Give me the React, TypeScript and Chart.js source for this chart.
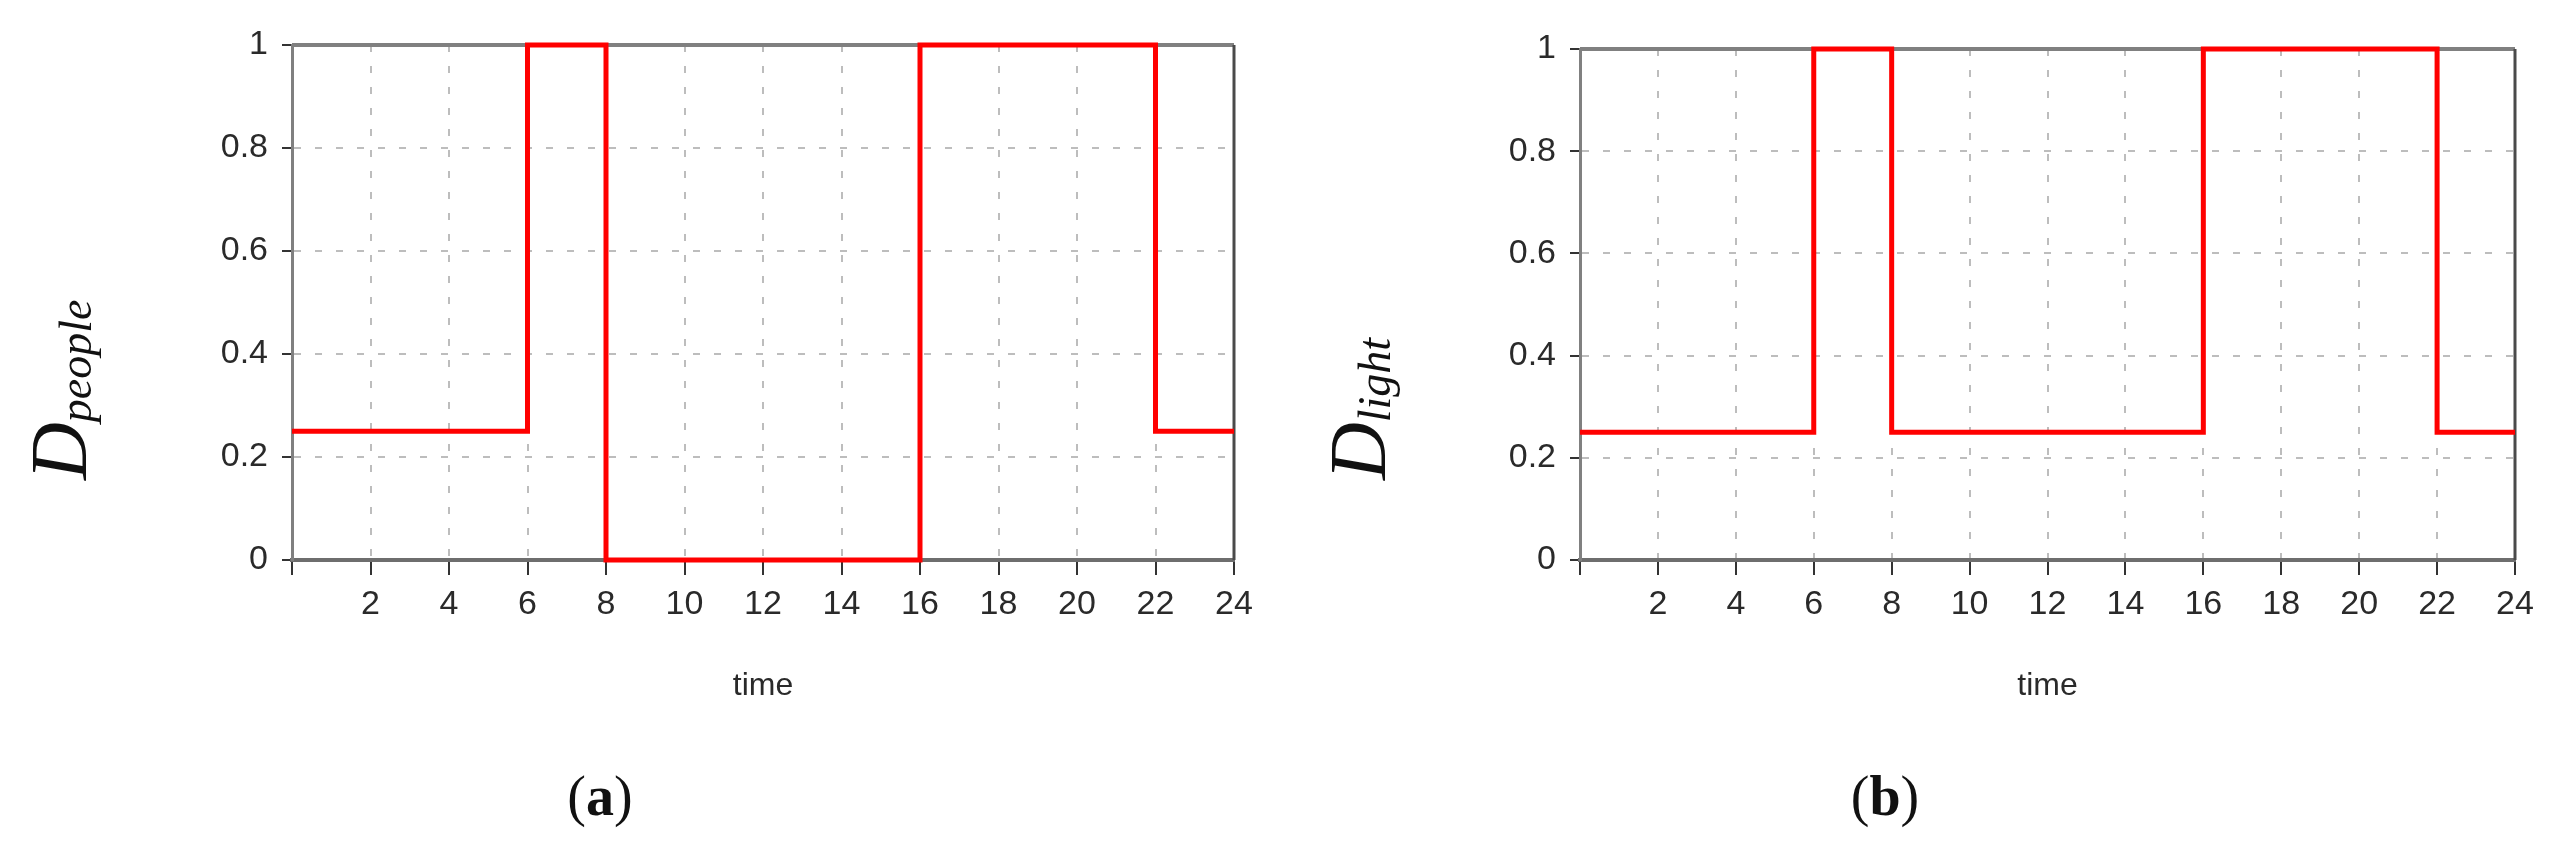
import React, { useEffect, useRef } from "react";
import { Chart, registerables } from "chart.js";

Chart.register(...registerables);

// ---- data ----
const timePoints = [0, 6, 8, 16, 22, 24];
const peopleValues = [0.25, 1, 0, 1, 0.25, 0.25];
const lightValues = [0.25, 1, 0.25, 1, 0.25, 0.25];
const xTickLabels = ["", "2", "4", "6", "8", "10", "12", "14", "16", "18", "20", "22", "24"];
const yTickLabels = ["0", "0.2", "0.4", "0.6", "0.8", "1"];

const TICK_FONT = {
  family: '"Liberation Sans Narrow", "Arial Narrow", "Liberation Sans", Arial, sans-serif',
  size: 34,
};
const TEXT_COLOR = "#2a2a2a";
const H = 841;

const framePlugin = {
  id: "frame",
  beforeDatasetsDraw(chart: any) {
    const { ctx, chartArea } = chart;
    const { left, right, top, bottom } = chartArea;
    ctx.save();
    ctx.strokeStyle = "#808080";
    ctx.lineWidth = 4;
    ctx.beginPath();
    ctx.moveTo(left, top);
    ctx.lineTo(right, top);
    ctx.stroke();
    ctx.strokeStyle = "#4a4a4a";
    ctx.lineWidth = 3;
    ctx.beginPath();
    ctx.moveTo(right, top);
    ctx.lineTo(right, bottom);
    ctx.stroke();
    ctx.restore();
  },
};

function makeChart(
  canvas: HTMLCanvasElement,
  values: number[],
  cfg: { top: number; right: number; yWidth: number; bottomY: number }
) {
  return new Chart(canvas, {
    type: "line",
    data: {
      datasets: [
        {
          data: timePoints.map((t, i) => ({ x: t, y: values[i] })),
          stepped: true,
          borderColor: "#ff0000",
          borderWidth: 5,
          pointRadius: 0,
          fill: false,
          clip: false,
        } as any,
      ],
    },
    options: {
      animation: false,
      responsive: false,
      devicePixelRatio: 1,
      layout: { padding: { left: 0, top: cfg.top, right: cfg.right, bottom: 0 } },
      plugins: { legend: { display: false }, tooltip: { enabled: false } },
      scales: {
        x: {
          type: "linear",
          min: 0,
          max: 24,
          ticks: {
            stepSize: 2,
            autoSkip: false,
            maxRotation: 0,
            padding: 9,
            color: TEXT_COLOR,
            font: TICK_FONT,
            callback: (_v: any, i: number) => xTickLabels[i],
          },
          grid: {
            color: "#bdbdbd",
            lineWidth: 2,
            tickColor: "#333333",
            tickWidth: 2,
            tickLength: 15,
          },
          border: { color: "#6e6e6e", width: 4, dash: [7, 14] },
          title: {
            display: true,
            text: "time",
            color: TEXT_COLOR,
            font: { ...TICK_FONT, size: 32 },
            padding: { top: 0, bottom: 136 },
          },
          afterFit: (s: any) => {
            s.height = H - cfg.bottomY;
            s.paddingLeft = 0;
            s.paddingRight = 0;
            s.paddingTop = 0;
            s.paddingBottom = 0;
          },
        } as any,
        y: {
          type: "linear",
          min: 0,
          max: 1,
          ticks: {
            stepSize: 0.2,
            padding: 14,
            color: TEXT_COLOR,
            font: TICK_FONT,
            callback: (_v: any, i: number) => yTickLabels[i],
          },
          grid: {
            color: "#bdbdbd",
            lineWidth: 2,
            tickColor: "#333333",
            tickWidth: 2,
            tickLength: 10,
          },
          border: { color: "#808080", width: 3, dash: [7, 14] },
          afterFit: (s: any) => {
            s.width = cfg.yWidth;
            s.paddingLeft = 0;
            s.paddingRight = 0;
            s.paddingTop = 0;
            s.paddingBottom = 0;
          },
        } as any,
      },
    },
    plugins: [framePlugin],
  });
}

function YLabel({ left, sub }: { left: number; sub: string }) {
  return (
    <div
      style={{
        position: "absolute",
        left,
        top: 480,
        transformOrigin: "0 0",
        transform: "rotate(-90deg)",
        whiteSpace: "nowrap",
        fontFamily: '"Liberation Serif", "DejaVu Serif", serif',
        fontStyle: "italic",
        fontSize: 80,
        lineHeight: "80px",
        height: 80,
        color: "#111",
      }}
    >
      <span>D</span>
      <span style={{ fontSize: 46, verticalAlign: "-5px", lineHeight: 0 }}>{sub}</span>
    </div>
  );
}

function Caption({ x, letter }: { x: number; letter: string }) {
  return (
    <div
      style={{
        position: "absolute",
        left: x,
        top: 796,
        transform: "translate(-50%, -50%)",
        fontFamily: '"Liberation Serif", "DejaVu Serif", serif',
        fontSize: 56,
        lineHeight: 1,
        whiteSpace: "nowrap",
        color: "#111",
      }}
    >
      (<span style={{ fontWeight: "bold" }}>{letter}</span>)
    </div>
  );
}

export default function App() {
  const ref1 = useRef<HTMLCanvasElement>(null);
  const ref2 = useRef<HTMLCanvasElement>(null);

  useEffect(() => {
    const c1 = makeChart(ref1.current!, peopleValues, { top: 45, right: 46, yWidth: 292, bottomY: 560 });
    const c2 = makeChart(ref2.current!, lightValues, { top: 49, right: 48, yWidth: 300, bottomY: 560 });
    return () => {
      c1.destroy();
      c2.destroy();
    };
  }, []);

  return (
    <div
      style={{
        position: "absolute",
        left: 0,
        top: 0,
        width: 2563,
        height: H,
        background: "#fff",
        overflow: "hidden",
      }}
    >
      <canvas
        ref={ref1}
        width={1280}
        height={H}
        style={{ position: "absolute", left: 0, top: 0, width: 1280, height: H }}
      />
      <canvas
        ref={ref2}
        width={1283}
        height={H}
        style={{ position: "absolute", left: 1280, top: 0, width: 1283, height: H }}
      />
      <YLabel left={19} sub="people" />
      <YLabel left={1318} sub="light" />
      <Caption x={600} letter="a" />
      <Caption x={1885} letter="b" />
    </div>
  );
}
